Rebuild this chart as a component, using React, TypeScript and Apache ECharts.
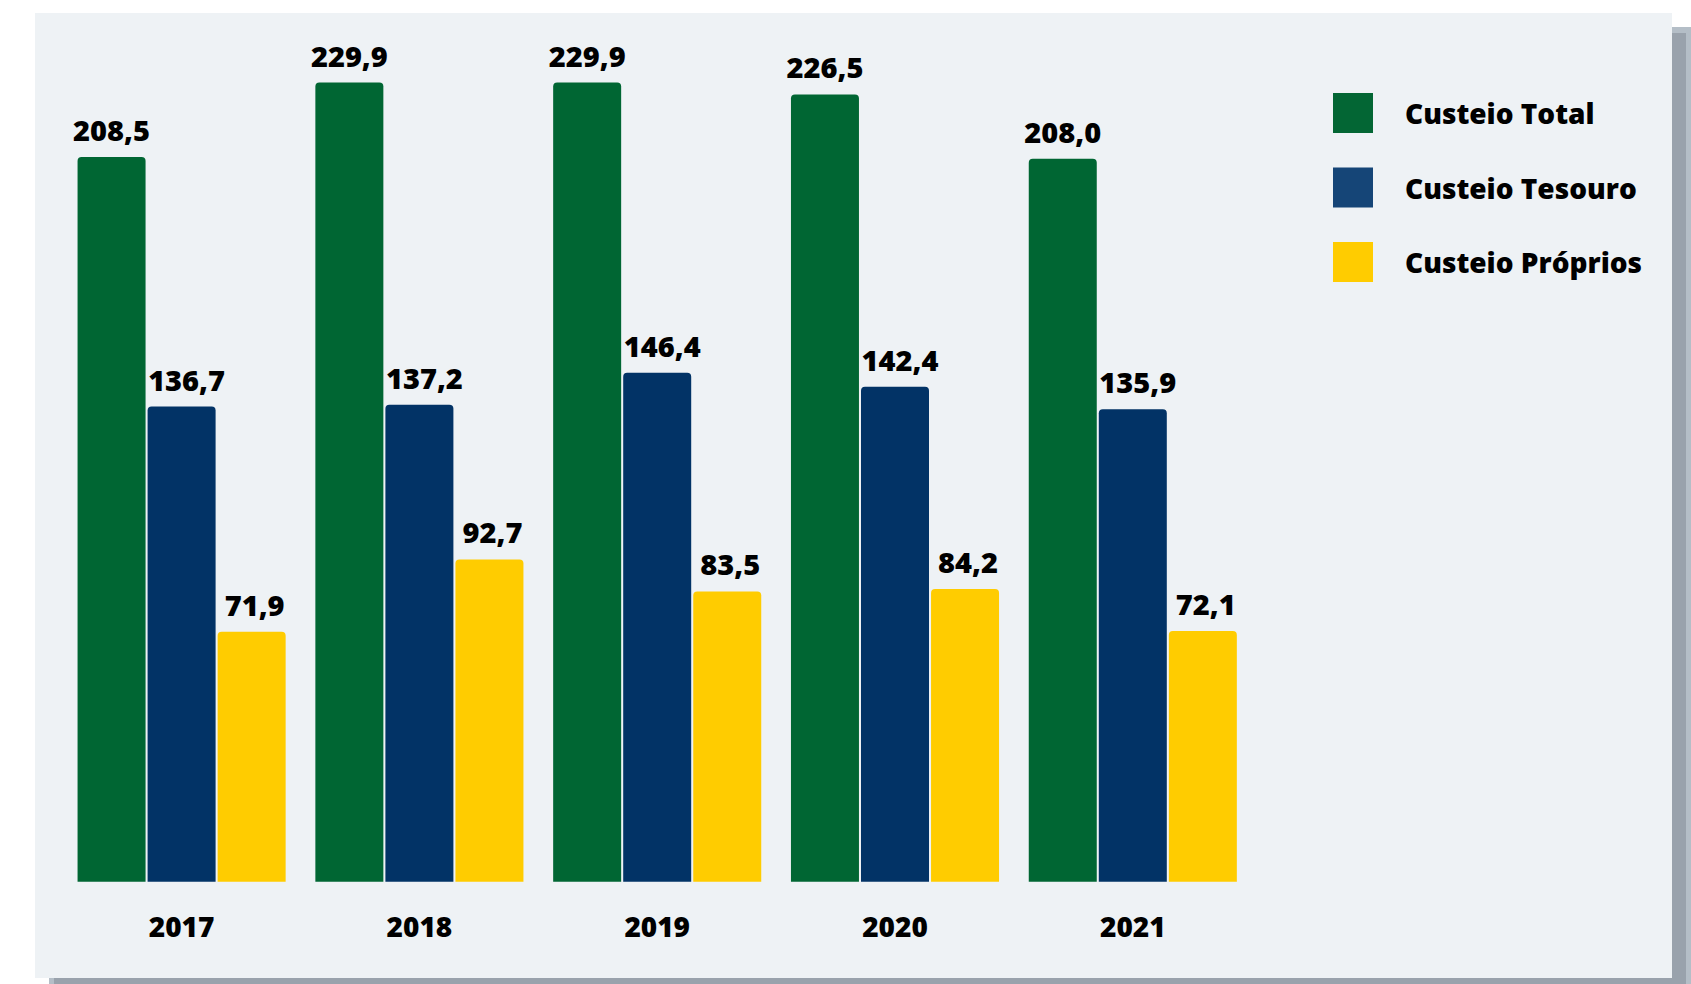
import React, { useEffect, useRef } from "react";
import * as echarts from "echarts";

const years = ["2017", "2018", "2019", "2020", "2021"];
const custeioTotal = [208.5, 229.9, 229.9, 226.5, 208.0];
const custeioTesouro = [136.7, 137.2, 146.4, 142.4, 135.9];
const custeioProprios = [71.9, 92.7, 83.5, 84.2, 72.1];
const seriesNames = ["Custeio Total", "Custeio Tesouro", "Custeio Próprios"];

const FONT = "'Open Sans', sans-serif";

export default function App() {
  const ref = useRef<HTMLDivElement>(null);
  useEffect(() => {
    if (!ref.current) return;
    const chart = echarts.init(ref.current, undefined, { renderer: "svg" });
    const fmt = (p: any) => Number(p.value).toFixed(1).replace(".", ",");
    const mkLabel = (dx: number) => ({
      show: true,
      position: "top",
      distance: 13,
      offset: [dx, 0],
      formatter: fmt,
      color: "#000",
      fontFamily: FONT,
      fontWeight: 800,
      fontSize: 29,
    });
    const mk = (name: string, data: number[], color: string, dx: number) => ({
      name,
      type: "bar",
      data,
      barWidth: 68,
      barGap: "3%",
      itemStyle: { color, borderRadius: [4, 4, 0, 0] },
      label: mkLabel(dx),
    });
    chart.setOption({
      animation: false,
      backgroundColor: "#ffffff",
      graphic: [
        { type: "rect", shape: { x: 1672, y: 27, width: 19, height: 957 }, style: { fill: "#b4bec7" }, silent: true },
        { type: "rect", shape: { x: 49, y: 978, width: 1642, height: 6 }, style: { fill: "#b4bec7" }, silent: true },
        { type: "rect", shape: { x: 1672, y: 33, width: 14, height: 951 }, style: { fill: "#99a2ac" }, silent: true },
        { type: "rect", shape: { x: 54, y: 978, width: 1632, height: 6 }, style: { fill: "#99a2ac" }, silent: true },
        { type: "rect", z: -10, shape: { x: 35, y: 13, width: 1637, height: 965 }, style: { fill: "#eef2f5" }, silent: true },
      ],
      legend: {
        orient: "vertical",
        left: 1333,
        top: 93,
        padding: 0,
        itemWidth: 40,
        itemHeight: 40,
        itemGap: 34.5,
        icon: "rect",
        textStyle: {
          color: "#000",
          fontFamily: FONT,
          fontWeight: 800,
          fontSize: 28,
          padding: [0, 0, 0, 27],
        },
        data: [
          { name: seriesNames[0], itemStyle: { color: "#036634" } },
          { name: seriesNames[1], itemStyle: { color: "#154577" } },
          { name: seriesNames[2], itemStyle: { color: "#ffcc00" } },
        ],
      },
      grid: { left: 62.7, width: 1189, top: 12.7, bottom: 102.3, containLabel: false },
      xAxis: {
        type: "category",
        data: years,
        axisLine: { show: false },
        axisTick: { show: false },
        axisLabel: {
          margin: 30,
          color: "#000",
          fontFamily: FONT,
          fontWeight: 800,
          fontSize: 28,
        },
      },
      yAxis: {
        type: "value",
        min: 0,
        max: 250,
        show: false,
        splitLine: { show: false },
      },
      series: [
        mk(seriesNames[0], custeioTotal, "#006633", 0),
        mk(seriesNames[1], custeioTesouro, "#023366", 5),
        mk(seriesNames[2], custeioProprios, "#ffcc00", 3),
      ],
    });
    return () => chart.dispose();
  }, []);
  return (
    <div
      ref={ref}
      style={{ position: "fixed", left: 0, top: 0, width: 1691, height: 984 }}
    />
  );
}
